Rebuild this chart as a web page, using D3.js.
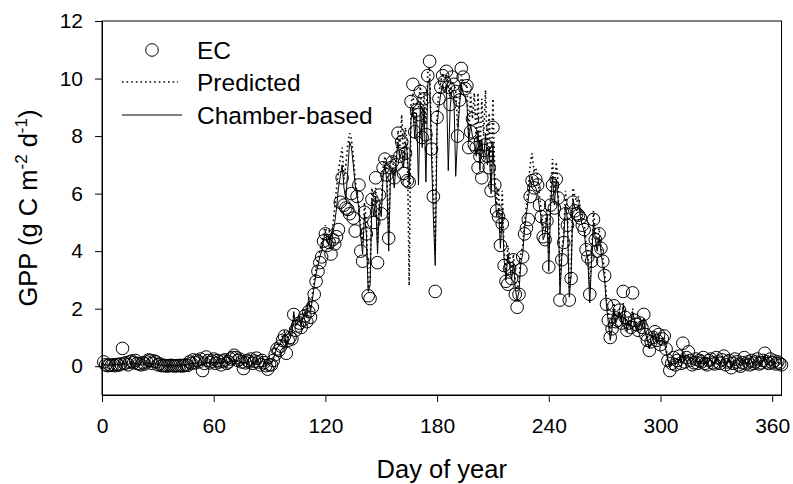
<!DOCTYPE html>
<html>
<head>
<meta charset="utf-8">
<script src="https://cdn.jsdelivr.net/npm/d3@7"></script>
<style>
  body { margin: 0; background: #fff; }
  svg { font-family: 'Liberation Sans', Arial, sans-serif; }
  .axis path, .axis line { stroke: #000; stroke-width: 1px; }
  .axis text { font-size: 21px; fill: #000; }
</style>
</head>
<body>
<script>
// daily GPP, index 0 = day 1
const firstDay = 1;

const ecGpp = [
  0.15, 0.05, 0.02, 0.04, 0.03, 0.05, 0.02, 0.06, 0.04, 0.08,
  0.62, 0.1, 0.12, 0.05, 0.15, 0.18, 0.12, 0.2, 0.1, 0.08,
  0.05, 0.12, 0.08, 0.15, 0.22, 0.2, 0.1, 0.18, 0.15, 0.05,
  0.08, 0.02, 0.03, 0.02, 0.01, 0.02, 0.03, 0.02, 0.01, 0.02,
  0.02, 0.03, 0.01, 0.02, 0.05, 0.03, 0.15, 0.1, 0.22, 0.12,
  0.2, 0.15, 0.25, -0.15, 0.1, 0.32, 0.2, 0.12, 0.18, 0.25,
  0.1, 0.2, 0.15, 0.05, 0.18, 0.22, 0.1, 0.15, 0.25, 0.3,
  0.38, 0.3, 0.2, 0.25, 0.15, -0.08, 0.12, 0.2, 0.15, 0.25,
  0.1, 0.18, 0.28, 0.15, 0.05, 0.2, 0.12, 0.02, -0.1, 0.05,
  0.05, 0.2, 0.4, 0.6, 0.55, 0.7, 0.9, 1.05, 0.45, 0.9,
  1.0, 0.95, 1.8, 1.25, 1.4, 1.5, 1.35, 1.6, 1.75, 1.55,
  1.9, 1.7, 2.05, 2.5, 2.95, 3.3, 3.6, 3.8, 4.35, 4.6,
  4.2, 4.3, 3.9, 4.4, 4.25, 4.5, 4.75, 5.7, 6.55, 5.6,
  5.5, 5.45, 5.3, 6.0, 5.15, 4.7, 5.9, 6.3, 4.0, 3.65,
  5.35, 4.6, 2.45, 2.35, 5.8, 5.0, 6.55, 3.6, 5.95, 5.3,
  6.9, 7.2, 6.65, 4.45, 6.9, 7.1, 6.55, 7.0, 8.1, 7.3,
  7.8, 6.7, 7.4, 6.45, 6.4, 9.2, 9.8, 8.15, 8.9, 8.75,
  9.55, 7.95, 9.3, 8.05, 10.1, 10.6, 7.55, 5.9, 2.6, 8.65,
  9.3, 9.7, 10.1, 9.9, 10.25, 9.7, 9.1, 10.05, 9.8, 9.55,
  8.0, 9.25, 10.35, 10.05, 9.65, 9.75, 7.6, 8.15, 8.6, 7.7,
  7.6, 6.9, 7.3, 6.55, 7.5, 7.7, 7.3, 6.9, 6.1, 8.3,
  6.3, 5.4, 5.2, 4.2, 4.95, 3.5, 2.95, 2.85, 3.4, 3.05,
  3.7, 2.5, 2.05, 2.5, 3.35, 3.8, 4.6, 4.8, 5.1, 5.9,
  6.45, 6.2, 6.5, 6.3, 5.6, 5.2, 4.5, 4.4, 5.05, 3.45,
  5.6, 6.3, 5.5, 6.5, 5.85, 2.3, 3.7, 4.3, 5.3, 4.9,
  2.3, 3.05, 5.7, 5.4, 5.3, 5.25, 5.15, 4.9, 4.75, 4.05,
  3.8, 2.5, 3.65, 5.1, 4.4, 4.0, 4.6, 4.1, 3.65, 3.15,
  2.15, 1.6, 1.0, 1.3, 2.1, 1.55, 1.6, 1.95, 1.5, 2.6,
  1.7, 1.25, 1.5, 1.35, 2.55, 1.6, 1.45, 1.25, 1.5, 1.35,
  1.8, 1.1, 0.9, 0.55, 0.85, 1.0, 1.2, 0.9, 1.1, 0.75,
  0.95, 1.05, 0.6, 0.2, -0.15, 0.1, 0.3, 0.05, 0.2, 0.35,
  0.1, 0.8, 0.15, 0.3, 0.5, 0.2, 0.05, 0.12, 0.25, 0.1,
  0.2, 0.15, 0.3, 0.1, 0.05, 0.2, 0.25, 0.12, 0.08, 0.3,
  0.15, 0.1, 0.22, 0.35, 0.05, 0.15, 0.2, -0.05, 0.1, 0.25,
  0.15, 0.05, 0.0, 0.12, 0.3, 0.08, 0.15, 0.05, 0.2, 0.1,
  0.15, 0.25, 0.08, 0.12, 0.2, 0.45, 0.15, 0.1, 0.25, 0.12,
  0.18, 0.08, 0.15, 0.1, 0.05
];

const predictedGpp = [
  0.05, 0.04, 0.03, 0.05, 0.04, 0.03, 0.04, 0.05, 0.06, 0.05,
  0.08, 0.06, 0.07, 0.05, 0.08, 0.1, 0.07, 0.09, 0.06, 0.05,
  0.05, 0.07, 0.06, 0.08, 0.1, 0.09, 0.07, 0.08, 0.07, 0.05,
  0.04, 0.03, 0.03, 0.02, 0.02, 0.03, 0.02, 0.03, 0.02, 0.02,
  0.03, 0.03, 0.02, 0.03, 0.04, 0.05, 0.08, 0.07, 0.1, 0.08,
  0.1, 0.09, 0.12, 0.05, 0.08, 0.12, 0.1, 0.09, 0.11, 0.12,
  0.1, 0.12, 0.1, 0.08, 0.12, 0.14, 0.1, 0.12, 0.15, 0.18,
  0.2, 0.18, 0.15, 0.16, 0.12, 0.08, 0.1, 0.14, 0.12, 0.15,
  0.12, 0.14, 0.18, 0.15, 0.1, 0.15, 0.12, 0.08, 0.05, 0.1,
  0.1, 0.3, 0.5, 0.7, 0.8, 0.9, 1.1, 1.2, 0.8, 1.1,
  1.3, 1.2, 1.8, 1.5, 1.6, 1.7, 1.5, 1.9, 2.0, 1.8,
  2.2, 2.0, 2.5, 3.0, 3.4, 3.7, 4.0, 4.3, 4.6, 4.9,
  4.5, 4.7, 4.4, 4.9, 5.5, 6.2, 6.8, 7.2, 7.6, 6.5,
  7.0, 7.7, 8.1, 7.9, 7.3, 6.5, 6.0, 5.6, 4.8, 4.3,
  5.7, 5.0, 2.7, 3.0, 6.2, 5.6, 6.2, 4.3, 5.8, 5.5,
  6.9, 7.3, 6.8, 4.6, 7.0, 7.3, 6.6, 7.3, 8.2, 7.6,
  8.75, 7.2, 8.3, 7.7, 2.8, 9.1, 9.5, 8.4, 9.2, 9.0,
  9.8, 8.3, 9.5, 8.4, 10.2, 10.4, 7.8, 6.1, 3.9, 8.9,
  9.5, 9.9, 10.2, 9.9, 10.1, 9.7, 9.3, 9.9, 9.8, 9.6,
  8.3, 9.2, 10.1, 9.9, 9.7, 9.8, 8.0, 9.5, 8.6, 9.5,
  7.8, 9.5, 7.2, 9.3, 8.0, 9.6, 7.5, 8.8, 6.5, 9.3,
  6.6, 5.6, 6.2, 4.5, 6.1, 4.0, 3.3, 4.2, 3.8, 3.3,
  3.9, 3.0, 2.6, 3.0, 3.9, 4.2, 5.0, 5.6, 6.2, 7.0,
  7.4, 6.8, 6.9, 6.6, 5.9, 5.4, 4.8, 4.9, 5.5, 3.9,
  6.1, 7.2, 6.0, 7.1, 6.4, 2.8, 4.0, 4.6, 6.1, 5.4,
  2.6, 3.3, 6.2, 5.9, 5.7, 5.9, 5.5, 5.2, 5.0, 4.3,
  4.0, 2.7, 3.9, 5.4, 4.7, 4.3, 4.8, 4.2, 3.8, 3.3,
  2.3, 1.8, 1.1, 1.5, 2.2, 1.6, 1.8, 2.0, 1.6, 2.2,
  1.8, 1.3, 1.6, 1.4, 2.0, 1.7, 1.5, 1.3, 1.6, 1.4,
  1.7, 1.2, 1.0, 0.7, 0.9, 1.1, 1.2, 0.9, 1.0, 0.8,
  0.9, 1.0, 0.6, 0.3, 0.0, 0.2, 0.25, 0.1, 0.2, 0.3,
  0.15, 0.5, 0.2, 0.3, 0.4, 0.2, 0.1, 0.15, 0.2, 0.1,
  0.2, 0.15, 0.25, 0.1, 0.08, 0.2, 0.2, 0.12, 0.1, 0.25,
  0.15, 0.1, 0.2, 0.3, 0.08, 0.15, 0.18, 0.0, 0.1, 0.2,
  0.15, 0.08, 0.05, 0.12, 0.25, 0.1, 0.15, 0.08, 0.18, 0.1,
  0.15, 0.2, 0.1, 0.12, 0.18, 0.35, 0.15, 0.1, 0.2, 0.12,
  0.15, 0.1, 0.12, 0.1, 0.08
];

const chamberGpp = [
  0.06, 0.05, 0.04, 0.05, 0.05, 0.04, 0.05, 0.06, 0.05, 0.06,
  0.1, 0.08, 0.08, 0.06, 0.09, 0.12, 0.08, 0.1, 0.07, 0.06,
  0.06, 0.08, 0.07, 0.09, 0.12, 0.1, 0.08, 0.1, 0.08, 0.06,
  0.05, 0.04, 0.03, 0.03, 0.02, 0.03, 0.03, 0.03, 0.02, 0.03,
  0.03, 0.04, 0.03, 0.03, 0.05, 0.06, 0.1, 0.08, 0.12, 0.1,
  0.12, 0.1, 0.14, 0.04, 0.1, 0.15, 0.12, 0.1, 0.12, 0.14,
  0.12, 0.14, 0.12, 0.1, 0.14, 0.16, 0.12, 0.14, 0.18, 0.2,
  0.24, 0.2, 0.18, 0.18, 0.14, 0.05, 0.12, 0.15, 0.14, 0.18,
  0.14, 0.16, 0.2, 0.16, 0.12, 0.18, 0.14, 0.1, 0.02, 0.1,
  0.1, 0.25, 0.45, 0.65, 0.7, 0.8, 1.0, 1.1, 0.6, 1.0,
  1.1, 1.05, 1.9, 1.4, 1.5, 1.6, 1.4, 1.7, 1.9, 1.7,
  2.4, 1.9, 2.3, 2.8, 3.2, 3.5, 3.8, 4.0, 4.4, 4.7,
  4.3, 4.5, 4.1, 4.6, 5.0, 5.5, 6.2, 6.6, 7.0, 6.2,
  5.8, 6.8, 7.8, 7.6, 7.0, 6.3, 5.9, 5.5, 4.5, 3.9,
  5.3, 4.6, 2.6, 2.8, 5.8, 5.2, 5.9, 3.9, 5.6, 5.2,
  6.6, 7.0, 6.4, 4.0, 6.7, 6.9, 6.2, 7.1, 7.8, 7.2,
  7.5, 6.9, 7.8, 7.4, 6.3, 8.6, 9.0, 7.9, 8.8, 6.3,
  9.2, 7.6, 9.0, 6.4, 9.8, 10.0, 7.3, 5.2, 3.5, 8.4,
  9.0, 9.5, 9.8, 9.5, 9.8, 6.8, 9.0, 9.6, 9.5, 6.6,
  8.0, 9.0, 9.8, 9.5, 9.4, 9.2, 7.8, 8.4, 8.0, 7.9,
  7.3, 8.2, 6.8, 7.9, 7.2, 8.1, 7.0, 7.6, 6.0, 7.8,
  6.1, 5.2, 5.5, 4.1, 5.3, 3.7, 3.0, 3.9, 3.5, 3.0,
  3.6, 2.7, 2.3, 2.6, 3.6, 3.9, 4.8, 5.3, 5.8, 6.4,
  6.6, 6.3, 6.2, 6.0, 5.5, 5.1, 4.4, 4.6, 5.2, 3.3,
  5.6, 6.6, 5.6, 6.5, 5.8, 2.5, 3.8, 4.4, 5.6, 5.1,
  2.4, 3.2, 5.8, 5.5, 5.4, 5.6, 5.2, 4.9, 4.7, 4.0,
  3.7, 2.2, 3.7, 5.0, 4.4, 4.0, 4.5, 4.0, 3.5, 3.0,
  2.1, 1.5, 0.9, 1.3, 2.0, 1.5, 1.7, 1.9, 1.5, 2.1,
  1.7, 1.2, 1.5, 1.3, 1.9, 1.6, 1.4, 1.2, 1.5, 1.3,
  1.6, 1.1, 0.9, 0.6, 0.8, 1.0, 1.1, 0.8, 0.9, 0.7,
  0.8, 0.9, 0.5, 0.2, -0.05, 0.15, 0.2, 0.05, 0.15, 0.25,
  0.12, 0.45, 0.18, 0.28, 0.35, 0.18, 0.08, 0.12, 0.2, 0.1,
  0.18, 0.14, 0.25, 0.1, 0.06, 0.18, 0.22, 0.12, 0.08, 0.25,
  0.14, 0.1, 0.2, 0.3, 0.06, 0.14, 0.18, -0.08, 0.1, 0.22,
  0.14, 0.06, 0.02, 0.12, 0.25, 0.08, 0.14, 0.06, 0.18, 0.1,
  0.14, 0.22, 0.08, 0.12, 0.18, 0.38, 0.14, 0.1, 0.22, 0.12,
  0.16, 0.08, 0.14, 0.1, 0.06
];

const xTicks = [0, 60, 120, 180, 240, 300, 360];
const yTicks = [0, 2, 4, 6, 8, 10, 12];
const legendLabels = ['EC', 'Predicted', 'Chamber-based'];

// layout
const width = 793;
const height = 484;
const margin = { top: 21, right: 11.5, bottom: 89, left: 102 };

const chart = () => {
  const x = d3.scaleLinear()
    .domain([0, 365])
    .range([margin.left, width - margin.right]);
  const y = d3.scaleLinear()
    .domain([-1, 12])
    .range([height - margin.bottom, margin.top]);

  const svg = d3.select('body')
    .append('svg')
    .attr('width', width)
    .attr('height', height);

  const day = (d, i) => x(i + firstDay);

  // dotted = predicted, thin solid = chamber-based
  const line = d3.line()
    .x(day)
    .y((d) => y(d));

  svg.append('path')
    .datum(predictedGpp)
    .attr('d', line)
    .attr('fill', 'none')
    .attr('stroke', '#000')
    .attr('stroke-width', 1.6)
    .attr('stroke-dasharray', '1.6,3');

  svg.append('path')
    .datum(chamberGpp)
    .attr('d', line)
    .attr('fill', 'none')
    .attr('stroke', '#000')
    .attr('stroke-width', 1);

  // open circles for eddy covariance
  svg.append('g')
    .selectAll('circle')
    .data(ecGpp)
    .join('circle')
    .attr('cx', day)
    .attr('cy', (d) => y(d))
    .attr('r', 6.3)
    .attr('fill', 'none')
    .attr('stroke', '#000')
    .attr('stroke-width', 1);

  // frame around the plot
  svg.append('rect')
    .attr('x', x(0))
    .attr('y', y(12))
    .attr('width', x(365) - x(0))
    .attr('height', y(-1) - y(12))
    .attr('fill', 'none')
    .attr('stroke', '#000');

  svg.append('g')
    .attr('class', 'axis')
    .attr('transform', `translate(0, ${y(-1)})`)
    .call(d3.axisBottom(x).tickValues(xTicks).tickSize(7).tickSizeOuter(0).tickPadding(16));

  svg.append('g')
    .attr('class', 'axis')
    .attr('transform', `translate(${x(0)}, 0)`)
    .call(d3.axisLeft(y).tickValues(yTicks).tickSize(7).tickSizeOuter(0).tickPadding(12));

  // axis titles
  svg.append('text')
    .attr('x', (x(0) + x(365)) / 2)
    .attr('y', 478)
    .attr('text-anchor', 'middle')
    .attr('font-size', 25.5)
    .text('Day of year');

  const yTitle = svg.append('text')
    .attr('transform', `translate(37, ${(y(12) + y(-1)) / 2}) rotate(-90)`)
    .attr('text-anchor', 'middle')
    .attr('font-size', 25.5);
  yTitle.append('tspan').text('GPP (g C m');
  yTitle.append('tspan').attr('font-size', 17).attr('dy', -10).text('-2');
  yTitle.append('tspan').attr('dy', 10).text(' d');
  yTitle.append('tspan').attr('font-size', 17).attr('dy', -10).text('-1');
  yTitle.append('tspan').attr('dy', 10).text(')');

  // legend
  const legend = svg.append('g')
    .attr('font-size', 24.5);
  legend.append('circle')
    .attr('cx', 152)
    .attr('cy', 50)
    .attr('r', 6.3)
    .attr('fill', 'none')
    .attr('stroke', '#000');
  legend.append('line')
    .attr('x1', 122).attr('x2', 178)
    .attr('y1', 82).attr('y2', 82)
    .attr('stroke', '#000')
    .attr('stroke-width', 1.6)
    .attr('stroke-dasharray', '1.6,3');
  legend.append('line')
    .attr('x1', 122).attr('x2', 182)
    .attr('y1', 115).attr('y2', 115)
    .attr('stroke', '#000');
  legend.selectAll('text')
    .data(legendLabels)
    .join('text')
    .attr('x', 197)
    .attr('y', (d, i) => 59 + i * 32.3)
    .text((d) => d);
};

chart();
</script>
</body>
</html>
